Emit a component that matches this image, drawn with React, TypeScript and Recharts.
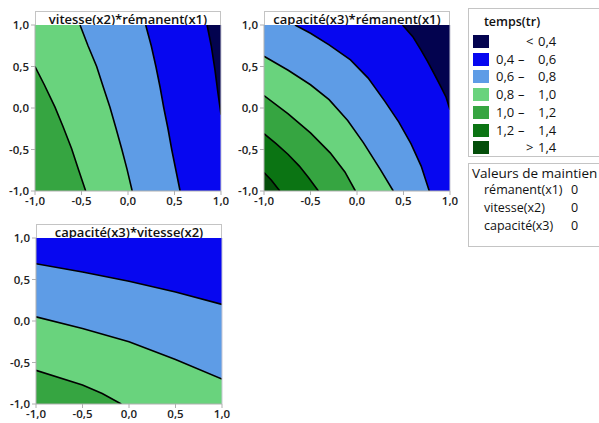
import React from 'react';
import { ComposedChart, Area, Line, XAxis, YAxis, ReferenceLine } from 'recharts';

// niveaux de temps(tr)
const levelColors = ['#03034f', '#0707f0', '#5e9ce6', '#69d37d', '#36a541', '#0b7413', '#044e0a'];
const levelLow = ['', '0,4', '0,6', '0,8', '1,0', '1,2', ''];
const levelSign = ['<', '–', '–', '–', '–', '–', '>'];
const levelHigh = ['0,4', '0,6', '0,8', '1,0', '1,2', '1,4', '1,4'];

const axisTicks = [-1, -0.5, 0, 0.5, 1];

const holdNames = ['rémanent(x1)', 'vitesse(x2)', 'capacité(x3)'];
const holdValues = [0, 0, 0];

// contours : [x, y]
// vitesse(x2) (y) * rémanent(x1) (x)
const p1c04 = [[0.85, 1], [0.895, 0.75], [0.935, 0.46], [0.965, 0.2], [0.985, 0.04], [1, -0.08]];
const p1c06 = [[0.19, 1], [0.25, 0.75], [0.3, 0.5], [0.345, 0.25], [0.385, 0], [0.43, -0.25], [0.47, -0.5], [0.515, -0.75], [0.56, -1]];
const p1c08 = [[-0.516, 1], [-0.43, 0.75], [-0.337, 0.5], [-0.265, 0.25], [-0.194, 0.01], [-0.13, -0.24], [-0.068, -0.49], [-0.01, -0.74], [0.045, -1]];
const p1c10 = [[-1, 0.5], [-0.9, 0.28], [-0.785, 0.01], [-0.7, -0.22], [-0.606, -0.49], [-0.53, -0.75], [-0.455, -1]];

// capacité(x3) (y) * rémanent(x1) (x)
const p2c04 = [[0.49, 1], [0.6, 0.86], [0.687, 0.7], [0.76, 0.56], [0.83, 0.41], [0.9, 0.26], [0.958, 0.13], [1, -0.02]];
const p2c06 = [[-0.667, 1], [-0.5, 0.9], [-0.3, 0.76], [-0.07, 0.58], [0.12, 0.36], [0.3, 0.08], [0.45, -0.17], [0.58, -0.43], [0.69, -0.7], [0.777, -1]];
const p2c08 = [[-1, 0.624], [-0.74, 0.455], [-0.5, 0.28], [-0.3, 0.1], [-0.1, -0.15], [0.07, -0.42], [0.25, -0.74], [0.39, -1]];
const p2c10 = [[-1, 0.15], [-0.74, -0.07], [-0.5, -0.3], [-0.288, -0.54], [-0.13, -0.77], [-0.017, -1]];
const p2c12 = [[-1, -0.31], [-0.87, -0.43], [-0.74, -0.56], [-0.62, -0.7], [-0.52, -0.84], [-0.415, -1]];
const p2c14 = [[-1, -0.778], [-0.92, -0.87], [-0.83, -1]];

// capacité(x3) (y) * vitesse(x2) (x)
const p3c06 = [[-1, 0.69], [-0.5, 0.59], [0, 0.48], [0.5, 0.35], [1, 0.2]];
const p3c08 = [[-1, 0.05], [-0.5, -0.09], [0, -0.25], [0.5, -0.465], [1, -0.7]];
const p3c10 = [[-1, -0.595], [-0.5, -0.77], [-0.288, -0.874], [-0.083, -1]];

const fmt = (v: number) => v.toFixed(1).replace('.', ',');
const toPts = (c: number[][]) => c.map(([x, y]) => ({ x, y }));

// zone "valeur > niveau" = sous la courbe, complétée jusqu'aux bords du carré
function region(c: number[][]) {
  const pts = toPts(c);
  if (pts[0].x > -1) pts.unshift({ x: -1, y: 1 });
  const last = pts[pts.length - 1];
  if (last.x < 1) pts.push({ x: 1, y: -1 });
  return pts;
}
const fullSquare = [{ x: -1, y: 1 }, { x: 1, y: 1 }];

const font = "'Open Sans', 'Noto Sans', sans-serif";
const tickStyle = { fontSize: 11.5, fontWeight: 600, fill: '#222', fontFamily: font };

type PanelProps = {
  left: number;
  top: number;
  title: string;
  bgColor: string;
  contours: number[][][];
  colors: string[];
};

function Panel({ left, top, title, bgColor, contours, colors }: PanelProps) {
  return (
    <div style={{ position: 'absolute', left, top }}>
      <div
        style={{
          position: 'absolute', left: 35, top: 11, width: 186, height: 15, boxSizing: 'border-box',
          border: '1px solid #c4c4c4', borderBottom: 'none', background: '#fff', textAlign: 'center',
          fontFamily: font, fontWeight: 600, fontSize: 13, lineHeight: '14px', color: '#111', whiteSpace: 'nowrap',
        }}
      >
        {title}
      </div>
      <ComposedChart width={240} height={215} margin={{ top: 25, right: 19, bottom: 0, left: 0 }}>
        <XAxis
          type="number" dataKey="x" domain={[-1, 1]} ticks={axisTicks} tickFormatter={fmt}
          allowDataOverflow height={24} tick={tickStyle} stroke="#b0b0b0" tickSize={4} interval={0}
        />
        <YAxis
          type="number" domain={[-1, 1]} ticks={axisTicks} tickFormatter={fmt}
          allowDataOverflow width={35} tick={tickStyle} stroke="#b0b0b0" tickSize={4} interval={0}
        />
        <Area data={fullSquare} dataKey="y" baseValue={-1} type="linear" stroke="none" fill={bgColor} fillOpacity={1} isAnimationActive={false} />
        {contours.map((c, i) => (
          <Area key={'a' + i} data={region(c)} dataKey="y" baseValue={-1} type="linear" stroke="none" fill={colors[i]} fillOpacity={1} isAnimationActive={false} />
        ))}
        {contours.map((c, i) => (
          <Line key={'l' + i} data={toPts(c)} dataKey="y" type="linear" stroke="#000" strokeWidth={1.6} dot={false} isAnimationActive={false} />
        ))}
        <ReferenceLine x={1} stroke="#c8c8d4" />
      </ComposedChart>
    </div>
  );
}

export default function App() {
  return (
    <div style={{ position: 'absolute', left: 0, top: 0, width: 599, height: 423, background: '#fff', overflow: 'hidden' }}>
      <Panel
        left={0} top={0} title="vitesse(x2)*rémanent(x1)" bgColor={levelColors[0]}
        contours={[p1c04, p1c06, p1c08, p1c10]} colors={levelColors.slice(1, 5)}
      />
      <Panel
        left={229} top={0} title="capacité(x3)*rémanent(x1)" bgColor={levelColors[0]}
        contours={[p2c04, p2c06, p2c08, p2c10, p2c12, p2c14]} colors={levelColors.slice(1, 7)}
      />
      <Panel
        left={1} top={213} title="capacité(x3)*vitesse(x2)" bgColor={levelColors[1]}
        contours={[p3c06, p3c08, p3c10]} colors={levelColors.slice(2, 5)}
      />

      <div style={{ position: 'absolute', left: 468, top: 8, width: 160, height: 149, boxSizing: 'border-box', border: '1px solid #c4c4c4', fontFamily: font, color: '#111' }}>
        <div style={{ position: 'absolute', left: 0, width: 86, top: 4, textAlign: 'center', fontSize: 12.5, fontWeight: 600 }}>temps(tr)</div>
        {levelColors.map((c, i) => (
          <div key={i} style={{ position: 'absolute', left: 0, top: 26 + i * 17.7, height: 13, width: 160, fontSize: 13, lineHeight: '13px' }}>
            <div style={{ position: 'absolute', left: 4, top: 0, width: 16, height: 13, background: c }} />
            <span style={{ position: 'absolute', left: 27 }}>{levelLow[i]}</span>
            <span style={{ position: 'absolute', left: levelLow[i] ? 49 : 57 }}>{levelSign[i]}</span>
            <span style={{ position: 'absolute', left: 69 }}>{levelHigh[i]}</span>
          </div>
        ))}
      </div>

      <div style={{ position: 'absolute', left: 468, top: 163, width: 160, height: 84, boxSizing: 'border-box', border: '1px solid #c4c4c4', fontFamily: font, color: '#111' }}>
        <div style={{ position: 'absolute', left: 3, top: 0, fontSize: 13.5, whiteSpace: 'nowrap' }}>Valeurs de maintien</div>
        {holdNames.map((n, i) => (
          <div key={n} style={{ position: 'absolute', left: 0, top: 17 + i * 18, fontSize: 12.5, whiteSpace: 'nowrap' }}>
            <span style={{ position: 'absolute', left: 15 }}>{n}</span>
            <span style={{ position: 'absolute', left: 102 }}>{holdValues[i]}</span>
          </div>
        ))}
      </div>
    </div>
  );
}
